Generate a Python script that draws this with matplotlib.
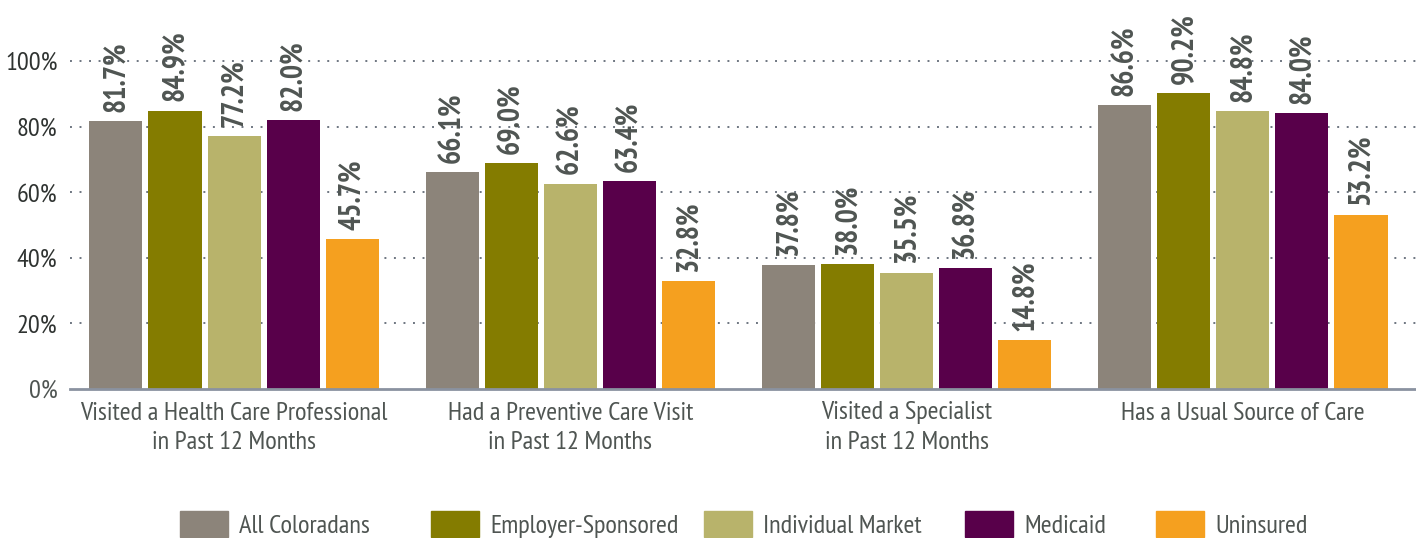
import numpy as np
import matplotlib.pyplot as plt
from matplotlib.patches import Patch

plt.rcParams['font.family'] = ['PT Sans Narrow', 'Roboto Condensed', 'DejaVu Sans']

categories = ["Visited a Health Care Professional\nin Past 12 Months",
              "Had a Preventive Care Visit\nin Past 12 Months",
              "Visited a Specialist\nin Past 12 Months",
              "Has a Usual Source of Care"]
series = ["All Coloradans", "Employer-Sponsored", "Individual Market",
          "Medicaid", "Uninsured"]
all_coloradans = [81.7, 66.1, 37.8, 86.6]
employer = [84.9, 69.0, 38.0, 90.2]
individual = [77.2, 62.6, 35.5, 84.8]
medicaid = [82.0, 63.4, 36.8, 84.0]
uninsured = [45.7, 32.8, 14.8, 53.2]
yticks = [0, 20, 40, 60, 80, 100]

colors = ["#8c847a", "#847c00", "#b8b36b", "#58004a", "#f5a01f"]
txt = "#4f5552"

W, H = 1416, 538
fig = plt.figure(figsize=(W / 100, H / 100), dpi=100)
ax = fig.add_axes([70 / W, 149 / H, 1 - 70 / W, 389 / H])

x = np.arange(len(categories))
width = 0.158
step = 0.1757
values = [all_coloradans, employer, individual, medicaid, uninsured]
for i, (vals, c) in enumerate(zip(values, colors)):
    pos = x + (i - 2) * step
    ax.bar(pos, vals, width=width, color=c, zorder=2)
    for p, v in zip(pos, vals):
        ax.text(p, v + 2.8, f"{v:.1f}%", rotation=90, ha='center', va='bottom',
                fontsize=21.5, fontweight='bold', color=txt)

ax.set_xlim(-0.488, 3.515)
ax.set_ylim(0, 118.6)
ax.set_yticks(yticks)
ax.set_yticklabels([f"{t}%" for t in yticks], fontsize=19, color="#2f3331")
ax.get_yticklabels()[0].set_color(txt)
ax.set_xticks(x)
ax.set_xticklabels(categories, fontsize=19, color=txt, linespacing=1.38)
ax.tick_params(axis='both', length=0)
ax.tick_params(axis='x', pad=9)
ax.tick_params(axis='y', pad=9)

# dotted guide lines, hidden behind the bars
for t in yticks[1:]:
    ax.axhline(t, color="#6e7681", linestyle=(0, (1, 3.9)), linewidth=1.4, zorder=1)
for s in ['top', 'right', 'left']:
    ax.spines[s].set_visible(False)
ax.spines['bottom'].set_color("#8a92a0")
ax.spines['bottom'].set_linewidth(2)

# one legend per entry so each swatch sits at its own spot
legend_x = [180, 431, 704, 965, 1156]
for name, c, lx in zip(series, colors, legend_x):
    leg = fig.legend([Patch(color=c)], [name], loc='lower left',
                     bbox_to_anchor=(lx / W, 0.0), frameon=False, fontsize=19,
                     handlelength=48 / 26.4, handleheight=31 / 26.4,
                     handletextpad=0.42, borderpad=0, borderaxespad=0)
    for t in leg.get_texts():
        t.set_color(txt)

fig.savefig("out.png", dpi=100)
